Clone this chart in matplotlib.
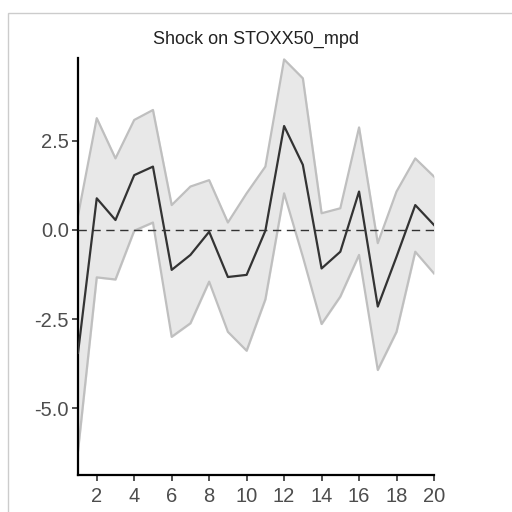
import numpy as np
import matplotlib
matplotlib.use("Agg")
from matplotlib import pyplot as plt
from matplotlib.patches import Rectangle

# impulse response and band
horizon = list(range(1, 21))
irf = [-3.45, 0.89, 0.28, 1.54, 1.78, -1.12, -0.70, -0.05, -1.32, -1.26,
       -0.02, 2.92, 1.83, -1.08, -0.61, 1.08, -2.15, -0.75, 0.70, 0.14]
upper = [0.40, 3.14, 2.01, 3.09, 3.37, 0.70, 1.22, 1.40, 0.21, 1.03,
         1.78, 4.79, 4.26, 0.47, 0.61, 2.88, -0.37, 1.08, 2.01, 1.50]
lower = [-6.20, -1.33, -1.39, -0.02, 0.21, -3.00, -2.62, -1.45, -2.86, -3.39,
         -1.95, 1.03, -0.75, -2.64, -1.87, -0.70, -3.93, -2.86, -0.61, -1.22]
xticks = [2, 4, 6, 8, 10, 12, 14, 16, 18, 20]
yticks = [-5.0, -2.5, 0.0, 2.5]
title = "Shock on STOXX50_mpd"

plt.rcParams["font.family"] = ["Liberation Sans", "DejaVu Sans"]

fig = plt.figure(figsize=(5.12, 5.12), dpi=100)
ax = fig.add_axes([78 / 512, 37 / 512, 356 / 512, 417 / 512])

ax.fill_between(horizon, lower, upper, color="#e8e8e8", zorder=1)
ax.plot(horizon, upper, color="#bfbfbf", lw=1.6, zorder=2)
ax.plot(horizon, lower, color="#bfbfbf", lw=1.6, zorder=2)
ax.axhline(0, color="#333333", lw=1.0, ls=(0, (6, 4)), zorder=3)
ax.plot(horizon, irf, color="#333333", lw=1.6, zorder=4)

ax.set_xlim(1, 20)
ax.set_ylim(-6.88, 4.83)
ax.set_xticks(xticks)
ax.set_yticks(yticks)
ax.set_yticklabels([f"{v:.1f}" for v in yticks])
for s in ["top", "right"]:
    ax.spines[s].set_visible(False)
for s in ["left", "bottom"]:
    ax.spines[s].set_linewidth(1.6)
    ax.spines[s].set_color("black")
ax.tick_params(colors="#333333", labelcolor="#4d4d4d", labelsize=14.5,
               length=4, width=1.2, pad=2.5)
ax.tick_params(axis="x", pad=5)
ax.set_title(title, fontsize=13, color="#222222", pad=10)

# light screenshot frame
fig.patches.append(Rectangle((8 / 512, -0.05), 1.2, (512 - 13) / 512 + 0.05,
                             transform=fig.transFigure, fill=False,
                             edgecolor="#cccccc", lw=1.0))

fig.savefig("out.png", dpi=100)
